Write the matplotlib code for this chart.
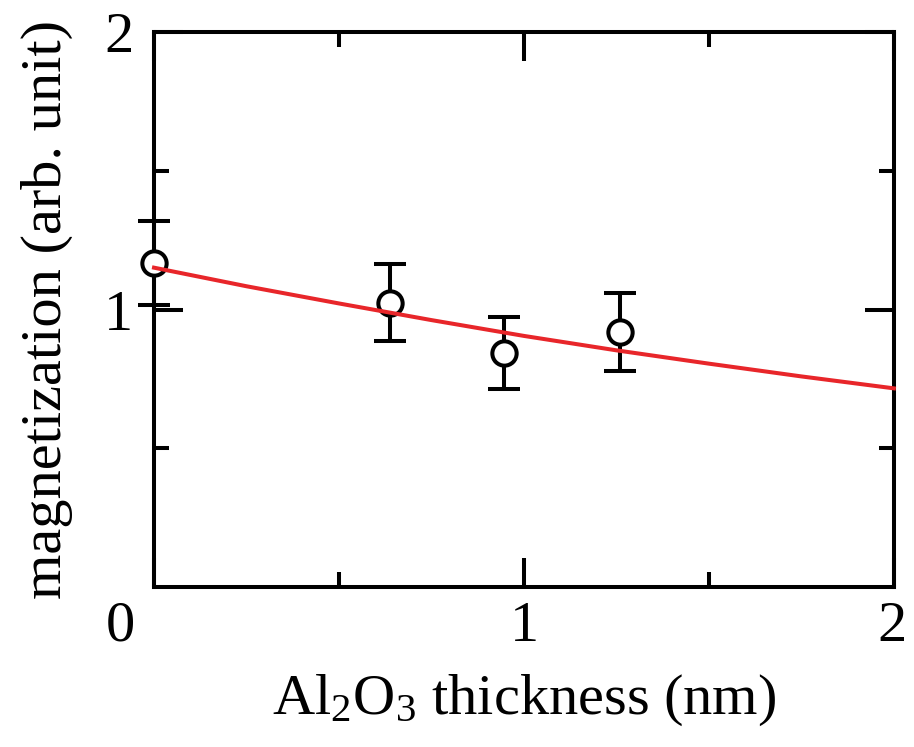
import matplotlib
matplotlib.use("Agg")
import matplotlib.pyplot as plt

plt.rcParams['font.family'] = ['Liberation Serif', 'DejaVu Serif']
plt.rcParams['mathtext.fontset'] = 'custom'
plt.rcParams['mathtext.rm'] = 'Liberation Serif'
plt.rcParams['mathtext.default'] = 'regular'

# measured magnetization vs Al2O3 thickness
thickness = [0.0, 0.638, 0.947, 1.259]
magnetization = [1.168, 1.025, 0.844, 0.920]
mag_err = [0.150, 0.140, 0.130, 0.141]

# fitted decay curve
fit_x = [0.0, 0.25, 0.5, 0.75, 1.0, 1.25, 1.5, 1.75, 2.0]
fit_y = [1.151, 1.084, 1.022, 0.962, 0.905, 0.853, 0.805, 0.759, 0.716]

x_ticks = [0, 1, 2]
x_ticklabels = ["0", "1", "2"]
y_ticks = [1, 2]
y_ticklabels = ["1", "2"]

LW = 2.9

fig = plt.figure(figsize=(9.14, 7.47), dpi=100)
ax = fig.add_axes([0.1685, 0.2142, 0.978 - 0.1685, 0.957 - 0.2142])

ax.errorbar(thickness, magnetization, yerr=mag_err, fmt='o', color='black',
            markersize=17.5, markerfacecolor='white', markeredgecolor='black',
            markeredgewidth=LW, elinewidth=LW, capsize=11.2, capthick=LW,
            clip_on=False, zorder=3)
ax.plot(fit_x, fit_y, color='#e8262a', linewidth=LW, zorder=4, clip_on=False)

ax.set_xlim(0, 2)
ax.set_ylim(0, 2)

for s in ax.spines.values():
    s.set_linewidth(LW)

ax.set_xticks(x_ticks)
ax.set_xticks([0.5, 1.5], minor=True)
ax.set_yticks(y_ticks)
ax.set_yticks([0.5, 1.5], minor=True)
ax.tick_params(which='both', direction='in', top=True, right=True, width=LW)
ax.tick_params(which='major', length=21)
ax.tick_params(which='minor', length=10.8)
ax.set_xticklabels([])
ax.set_yticklabels(y_ticklabels, fontsize=42)
ax.tick_params(axis='y', pad=15)

# x tick labels placed individually (the "0" sits left of the corner)
x_label_pos = [-0.092, 1.0, 1.995]
for xp, lab in zip(x_label_pos, x_ticklabels):
    ax.text(xp, -0.025, lab, transform=ax.get_xaxis_transform(),
            ha='center', va='top', fontsize=42)

ax.set_xlabel("Al$_2$O$_3$ thickness (nm)", fontsize=42, labelpad=58)
ax.set_ylabel("magnetization (arb. unit)", fontsize=42, labelpad=22)

fig.savefig("out.png", dpi=100)
